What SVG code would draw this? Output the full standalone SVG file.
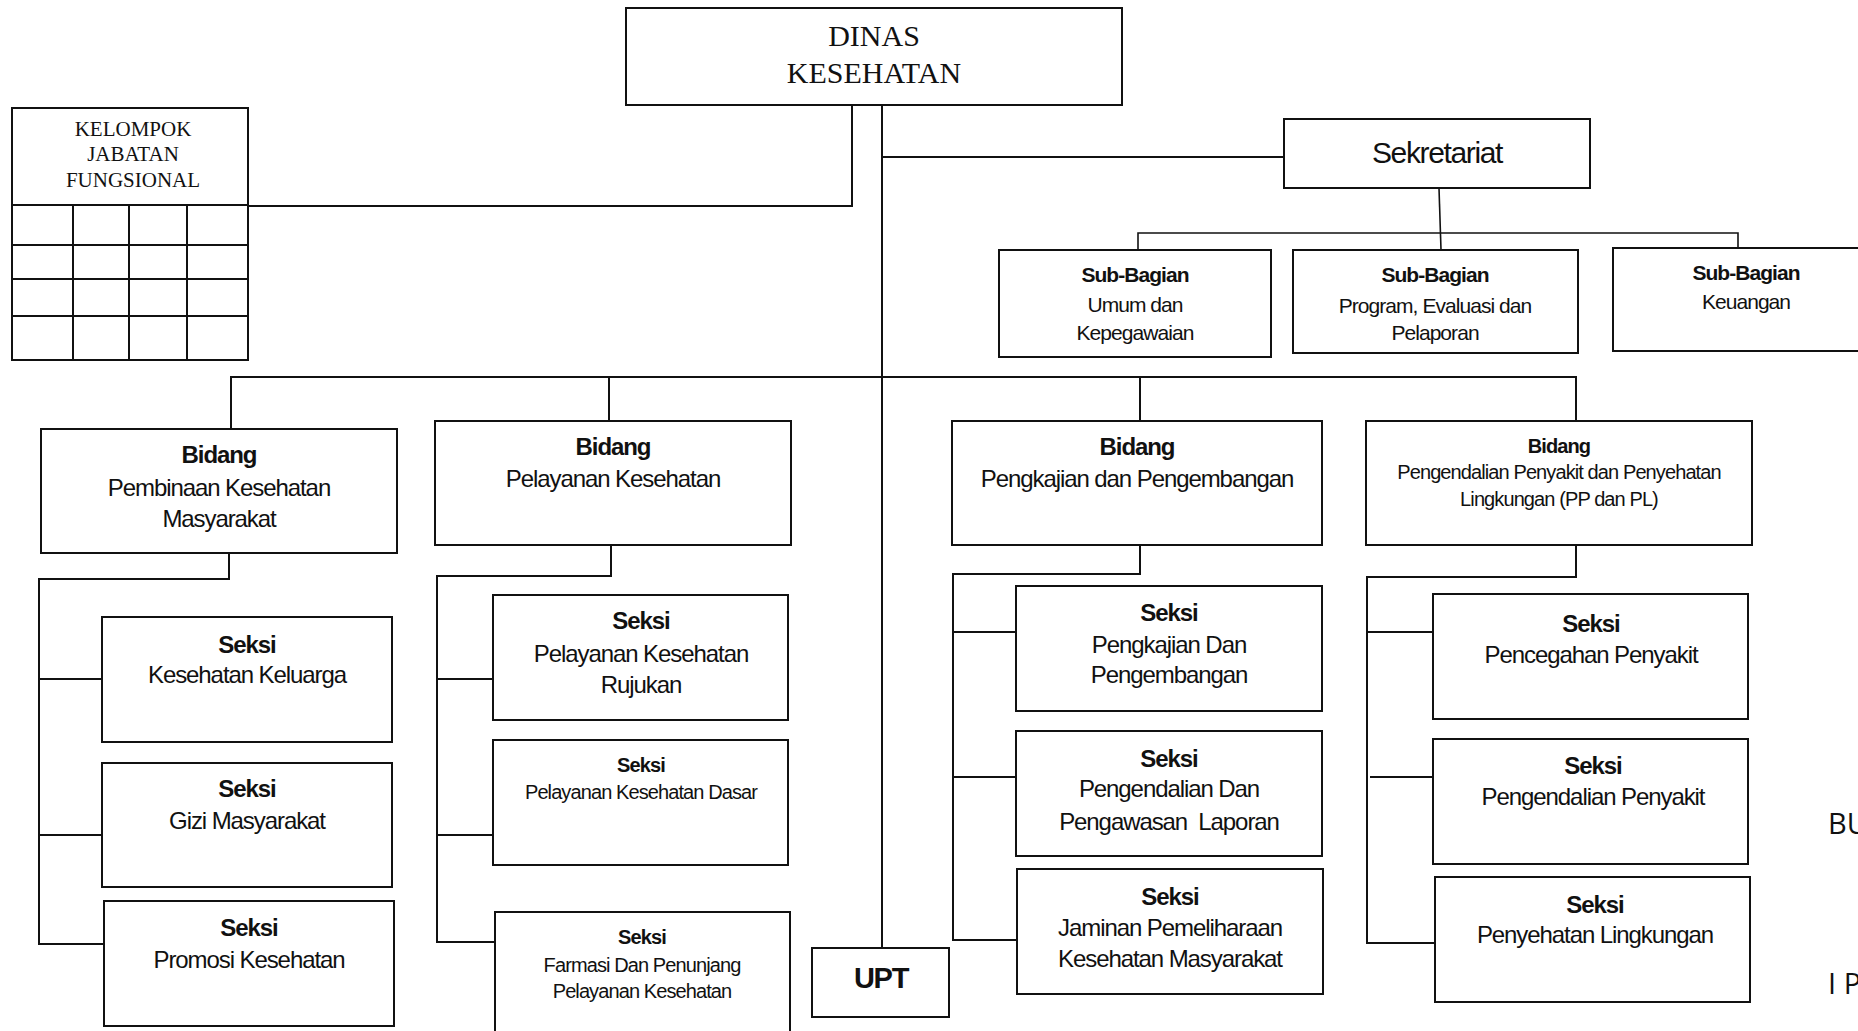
<svg xmlns="http://www.w3.org/2000/svg" width="1858" height="1031" viewBox="0 0 1858 1031">
<style>
.box{fill:#fff;stroke:#111;stroke-width:2}
.ln{fill:none;stroke:#111;stroke-width:2}
.thin{fill:none;stroke:#111;stroke-width:1.6}
text{font-family:"Liberation Sans",Arial,sans-serif;fill:#111;text-anchor:middle;letter-spacing:-0.045em}
.b{font-weight:bold}
.s24{font-size:24px}
.s21{font-size:21px}
.s20{font-size:20px}
.serif{font-family:"Liberation Serif","Times New Roman",serif;letter-spacing:0}
.edge{font-family:"Open Sans","Noto Sans",sans-serif;font-size:29px;letter-spacing:0;text-anchor:start}
</style>
<rect width="1858" height="1031" fill="#fff"/>
<g id="connectors">
<polyline class="ln" points="852,105 852,206 248,206"/>
<line class="ln" x1="882" y1="105" x2="882" y2="948"/>
<line class="ln" x1="882" y1="157" x2="1284" y2="157"/>
<line class="thin" x1="1439" y1="188" x2="1441" y2="250"/>
<polyline class="thin" points="1138,250 1138,233 1738,233 1738,248"/>
<polyline class="ln" points="231,429 231,377 1576,377 1576,421"/>
<line class="ln" x1="609" y1="377" x2="609" y2="421"/>
<line class="ln" x1="1140" y1="377" x2="1140" y2="421"/>
<polyline class="ln" points="229,553 229,579 39,579 39,944 104,944"/>
<line class="ln" x1="39" y1="679" x2="102" y2="679"/>
<line class="ln" x1="39" y1="835" x2="102" y2="835"/>
<polyline class="ln" points="611,545 611,576 437,576 437,942 495,942"/>
<line class="ln" x1="437" y1="679" x2="493" y2="679"/>
<line class="ln" x1="437" y1="835" x2="493" y2="835"/>
<polyline class="ln" points="1140,545 1140,574 953,574 953,940 1017,940"/>
<line class="ln" x1="953" y1="632" x2="1016" y2="632"/>
<line class="ln" x1="953" y1="777" x2="1016" y2="777"/>
<polyline class="ln" points="1576,545 1576,577 1367,577 1367,943 1435,943"/>
<line class="ln" x1="1367" y1="632" x2="1433" y2="632"/>
<line class="ln" x1="1370" y1="777" x2="1436" y2="777"/>
</g>
<g id="kjf">
<rect class="box" x="12" y="108" width="236" height="252"/>
<path class="ln" d="M12,205H248M12,245H248M12,279H248M12,316H248M73,205V360M129,205V360M187,205V360"/>
<text class="serif" x="133" y="136" font-size="21">KELOMPOK</text>
<text class="serif" x="133" y="161" font-size="21">JABATAN</text>
<text class="serif" x="133" y="187" font-size="21">FUNGSIONAL</text>
</g>
<g id="dinas">
<rect class="box" x="626" y="8" width="496" height="97"/>
<text class="serif" x="874" y="46" font-size="30">DINAS</text>
<text class="serif" x="874" y="83" font-size="30">KESEHATAN</text>
</g>
<g id="sekretariat">
<rect class="box" x="1284" y="119" width="306" height="69"/>
<text x="1437" y="163" font-size="30">Sekretariat</text>
</g>
<g id="sub-umum">
<rect class="box" x="999" y="250" width="272" height="107"/>
<text class="b s21" x="1135" y="282">Sub-Bagian</text>
<text class="s21" x="1135" y="312">Umum dan</text>
<text class="s21" x="1135" y="340">Kepegawaian</text>
</g>
<g id="sub-program">
<rect class="box" x="1293" y="250" width="285" height="103"/>
<text class="b s21" x="1435" y="282">Sub-Bagian</text>
<text class="s21" x="1435" y="313">Program, Evaluasi dan</text>
<text class="s21" x="1435" y="340">Pelaporan</text>
</g>
<g id="sub-keuangan">
<rect class="box" x="1613" y="248" width="267" height="103"/>
<text class="b s21" x="1746" y="280">Sub-Bagian</text>
<text class="s21" x="1746" y="309">Keuangan</text>
</g>
<g id="bidang-pkm">
<rect class="box" x="41" y="429" width="356" height="124"/>
<text class="b s24" x="219" y="463">Bidang</text>
<text class="s24" x="219" y="496">Pembinaan Kesehatan</text>
<text class="s24" x="219" y="527">Masyarakat</text>
</g>
<g id="bidang-yankes">
<rect class="box" x="435" y="421" width="356" height="124"/>
<text class="b s24" x="613" y="455">Bidang</text>
<text class="s24" x="613" y="487">Pelayanan Kesehatan</text>
</g>
<g id="bidang-litbang">
<rect class="box" x="952" y="421" width="370" height="124"/>
<text class="b s24" x="1137" y="455">Bidang</text>
<text class="s24" x="1137" y="487">Pengkajian dan Pengembangan</text>
</g>
<g id="bidang-pppl">
<rect class="box" x="1366" y="421" width="386" height="124"/>
<text class="b s20" x="1559" y="453">Bidang</text>
<text class="s20" x="1559" y="479">Pengendalian Penyakit dan Penyehatan</text>
<text class="s20" x="1559" y="506">Lingkungan (PP dan PL)</text>
</g>
<g id="seksi-kk">
<rect class="box" x="102" y="617" width="290" height="125"/>
<text class="b s24" x="247" y="653">Seksi</text>
<text class="s24" x="247" y="683">Kesehatan Keluarga</text>
</g>
<g id="seksi-gizi">
<rect class="box" x="102" y="763" width="290" height="124"/>
<text class="b s24" x="247" y="797">Seksi</text>
<text class="s24" x="247" y="829">Gizi Masyarakat</text>
</g>
<g id="seksi-promkes">
<rect class="box" x="104" y="901" width="290" height="125"/>
<text class="b s24" x="249" y="936">Seksi</text>
<text class="s24" x="249" y="968">Promosi Kesehatan</text>
</g>
<g id="seksi-rujukan">
<rect class="box" x="493" y="595" width="295" height="125"/>
<text class="b s24" x="641" y="629">Seksi</text>
<text class="s24" x="641" y="662">Pelayanan Kesehatan</text>
<text class="s24" x="641" y="693">Rujukan</text>
</g>
<g id="seksi-dasar">
<rect class="box" x="493" y="740" width="295" height="125"/>
<text class="b s20" x="641" y="772">Seksi</text>
<text class="s20" x="641" y="799">Pelayanan Kesehatan Dasar</text>
</g>
<g id="seksi-farmasi">
<rect class="box" x="495" y="912" width="295" height="130"/>
<text class="b s20" x="642" y="944">Seksi</text>
<text class="s20" x="642" y="972">Farmasi Dan Penunjang</text>
<text class="s20" x="642" y="998">Pelayanan Kesehatan</text>
</g>
<g id="upt">
<rect class="box" x="812" y="948" width="137" height="69"/>
<text class="b" x="881" y="988" font-size="29">UPT</text>
</g>
<g id="seksi-pengkajian">
<rect class="box" x="1016" y="586" width="306" height="125"/>
<text class="b s24" x="1169" y="621">Seksi</text>
<text class="s24" x="1169" y="653">Pengkajian Dan</text>
<text class="s24" x="1169" y="683">Pengembangan</text>
</g>
<g id="seksi-pengawasan">
<rect class="box" x="1016" y="731" width="306" height="125"/>
<text class="b s24" x="1169" y="767">Seksi</text>
<text class="s24" x="1169" y="797">Pengendalian Dan</text>
<text class="s24" x="1169" y="830" style="white-space:pre">Pengawasan  Laporan</text>
</g>
<g id="seksi-jaminan">
<rect class="box" x="1017" y="869" width="306" height="125"/>
<text class="b s24" x="1170" y="905">Seksi</text>
<text class="s24" x="1170" y="936">Jaminan Pemeliharaan</text>
<text class="s24" x="1170" y="967">Kesehatan Masyarakat</text>
</g>
<g id="seksi-pencegahan">
<rect class="box" x="1433" y="594" width="315" height="125"/>
<text class="b s24" x="1591" y="632">Seksi</text>
<text class="s24" x="1591" y="663">Pencegahan Penyakit</text>
</g>
<g id="seksi-p2">
<rect class="box" x="1433" y="739" width="315" height="125"/>
<text class="b s24" x="1593" y="774">Seksi</text>
<text class="s24" x="1593" y="805">Pengendalian Penyakit</text>
</g>
<g id="seksi-kesling">
<rect class="box" x="1435" y="877" width="315" height="125"/>
<text class="b s24" x="1595" y="913">Seksi</text>
<text class="s24" x="1595" y="943">Penyehatan Lingkungan</text>
</g>
<g id="edge-text">
<text class="edge" x="1828" y="834">BU</text>
<text class="edge" x="1828" y="994">I P</text>
</g>
</svg>
